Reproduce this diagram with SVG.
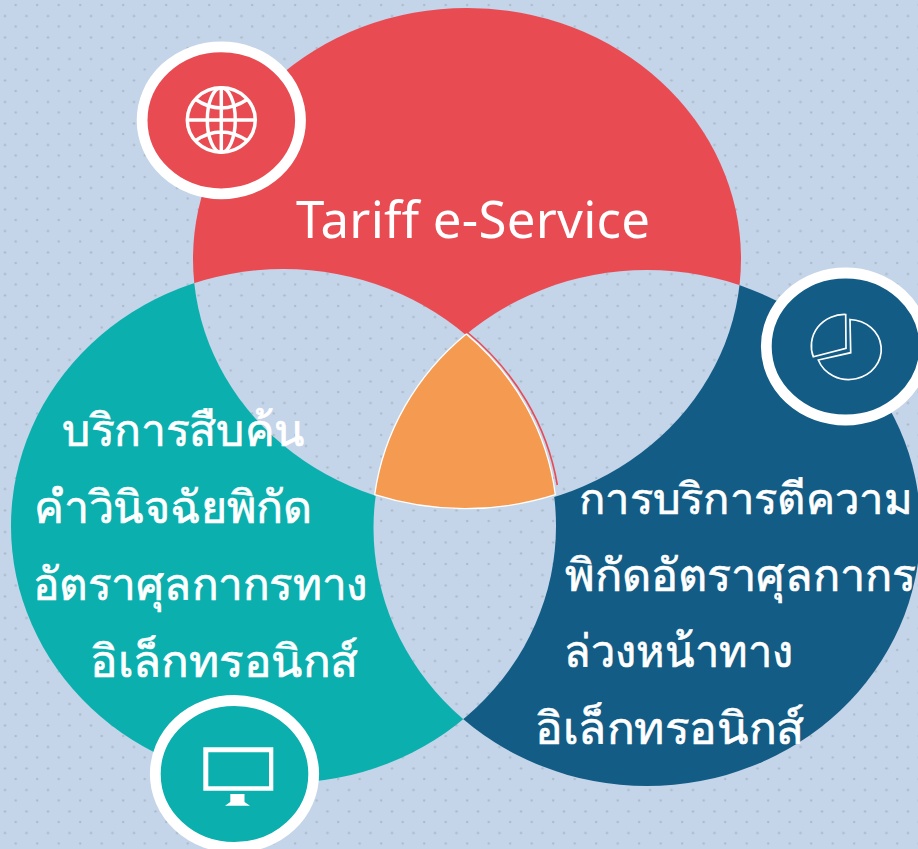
<svg xmlns="http://www.w3.org/2000/svg" width="918" height="849" viewBox="0 0 918 849">
<style>
.t{font-family:"Noto Sans","Noto Sans CJK SC","DejaVu Sans",sans-serif;fill:#fff;stroke:#fff;stroke-width:.7;font-size:45px;font-weight:500}
.ring{stroke:#fff;stroke-width:10.8}
.ln{fill:none;stroke:#fff}
</style>
<defs>
<pattern id="dots" width="21.5" height="21.5" patternUnits="userSpaceOnUse">
<circle cx="5" cy="16" r="1.2" fill="#a9b9c6"/>
<circle cx="15.7" cy="5" r="1.2" fill="#a9b9c6"/>
</pattern>
<ellipse id="eR" cx="467" cy="259" rx="274" ry="251"/>
<ellipse id="eT" cx="283.500" cy="526" rx="272.500" ry="257"/>
<ellipse id="eB" cx="647" cy="528" rx="273.500" ry="258"/>
<mask id="mR" maskUnits="userSpaceOnUse" x="0" y="0" width="918" height="849"><rect width="918" height="849" fill="#fff"/><use href="#eT" fill="#000"/><use href="#eB" fill="#000"/></mask>
<mask id="mT" maskUnits="userSpaceOnUse" x="0" y="0" width="918" height="849"><rect width="918" height="849" fill="#fff"/><use href="#eR" fill="#000"/><use href="#eB" fill="#000"/></mask>
<mask id="mB" maskUnits="userSpaceOnUse" x="0" y="0" width="918" height="849"><rect width="918" height="849" fill="#fff"/><use href="#eR" fill="#000"/><use href="#eT" fill="#000"/></mask>
</defs>
<rect width="918" height="849" fill="#c4d4e9"/>
<rect width="918" height="849" fill="url(#dots)"/>
<g id="red">
<use href="#eR" fill="#e94b53" mask="url(#mR)"/>
<path d="M467 332A272.500 256.500 0 0 1 557.300 485" fill="none" stroke="#e94b53" stroke-width="1.600"/>
<text class="t" x="296" y="238" textLength="354" style="font-size:51px;font-weight:400;stroke-width:0">Tariff e-Service</text>
<ellipse class="ring" cx="221.300" cy="120.300" rx="79.200" ry="73.500" fill="#e94b53"/>
<g class="ln" stroke-width="3.500">
<ellipse cx="221.300" cy="120" rx="34" ry="32.300"/>
<ellipse cx="221.300" cy="120" rx="14" ry="32.300"/>
<path d="M221.300 88V152M187.500 120H255.300M195 99Q221 117 248 99M195 141Q221 123 248 141"/>
</g>
</g>
<g id="teal">
<use href="#eT" fill="#0aafae" mask="url(#mT)"/>
<ellipse class="ring" cx="234.500" cy="774" rx="79.200" ry="73.500" fill="#0aafae"/>
<path d="M203.300 747.300H273.300V790.700H203.300ZM208.300 752.300V786.300H269V752.300Z" fill="#fff" fill-rule="evenodd"/>
<path d="M230.300 794H244.500V802L250 805.800H225L230.300 802Z" fill="#fff"/>
<text class="t" x="62" y="446" textLength="243" lengthAdjust="spacingAndGlyphs">บริการสืบค้น</text>
<text class="t" x="34" y="523" textLength="278" lengthAdjust="spacingAndGlyphs">คำวินิจฉัยพิกัด</text>
<text class="t" x="33" y="600" textLength="335" lengthAdjust="spacingAndGlyphs">อัตราศุลกากรทาง</text>
<text class="t" x="90" y="677" textLength="268" lengthAdjust="spacingAndGlyphs">อิเล็กทรอนิกส์</text>
</g>
<g id="blue">
<use href="#eB" fill="#125c85" mask="url(#mB)"/>
<ellipse class="ring" cx="845.500" cy="346.500" rx="79.200" ry="73.500" fill="#125c85"/>
<g class="ln" stroke-width="1.700">
<path d="M850 319.500A32.500 30 0 1 1 818.300 360L850.700 352.700Z"/>
<path d="M845.700 314.500A33 31.500 0 0 0 813.300 356.700L846 348.300Z"/>
</g>
<text class="t" x="579" y="514" textLength="333" lengthAdjust="spacingAndGlyphs" style="font-size:43px">การบริการตีความ</text>
<text class="t" x="565" y="591" textLength="351" lengthAdjust="spacingAndGlyphs">พิกัดอัตราศุลกากร</text>
<text class="t" x="564" y="667" textLength="229" lengthAdjust="spacingAndGlyphs">ล่วงหน้าทาง</text>
<text class="t" x="535" y="744" textLength="269" lengthAdjust="spacingAndGlyphs">อิเล็กทรอนิกส์</text>
</g>
<g id="center">
<path d="M466.300 334A272.500 256.500 0 0 1 555.300 494.700A274 251 0 0 1 374.700 494.700A273 257 0 0 1 466.300 334Z" fill="#f49b51" stroke="#fff" stroke-width="1.300"/>
</g>
</svg>
